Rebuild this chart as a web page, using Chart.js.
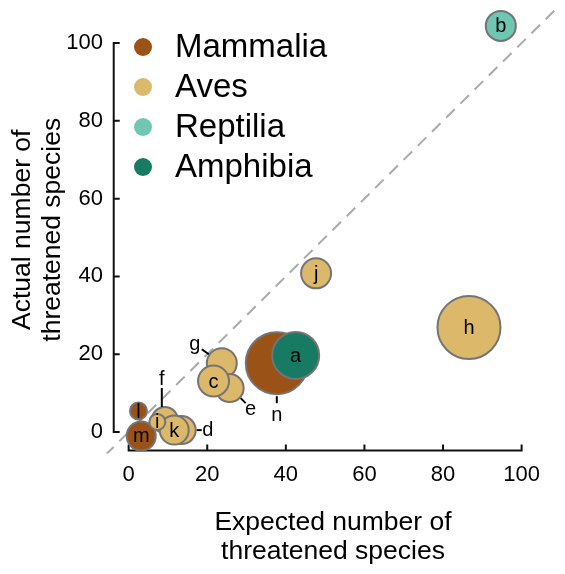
<!DOCTYPE html>
<html>
<head>
<meta charset="utf-8">
<script src="https://cdn.jsdelivr.net/npm/chart.js@4.4.1/dist/chart.umd.min.js"></script>
<style>
  body { margin: 0; background: #fff; }
  #wrap { width: 565px; height: 574px; }
</style>
</head>
<body>
<div id="wrap"><canvas id="chart"></canvas></div>
<script>
// data (x = expected, y = actual, r = bubble radius)
const mammaliaLabels = ['l', 'm', 'n'];
const mammaliaX = [2.5, 3.2, 37.7];
const mammaliaY = [5.4, -1.0, 17.7];
const mammaliaR = [8.5, 14.5, 31];

const avesLabels = ['h', 'j', 'g', 'e', 'c', 'f', 'd', 'k', 'i'];
const avesX = [86.6, 47.7, 23.7, 25.7, 21.6, 9.2, 13.5, 11.6, 7.3];
const avesY = [26.9, 40.8, 17.7, 11.3, 13.1, 3.1, 0.5, 0.5, 2.6];
const avesR = [31.5, 15, 15, 14, 15.5, 13, 14, 14.5, 8];

const reptiliaLabels = ['b'];
const reptiliaX = [94.7];
const reptiliaY = [104.4];
const reptiliaR = [15];

const amphibiaLabels = ['a'];
const amphibiaX = [42.5];
const amphibiaY = [19.7];
const amphibiaR = [23.5];

const tickValues = [0, 20, 40, 60, 80, 100];

const groups = ['Mammalia', 'Aves', 'Reptilia', 'Amphibia'];
const colors = ['#9b5217', '#dcb86b', '#6fc6b3', '#177a63'];

const FONT = '"Liberation Sans", Arial, Helvetica, sans-serif';

function points(xs, ys, rs) {
  return xs.map((x, i) => ({ x: x, y: ys[i], r: rs[i] }));
}

// labels drawn outside the bubble, with a short leader line (pixel offsets)
const outside = {
  n: { line: [[0, 33], [0, 40]], text: [0, 52] },
  g: { line: [[-13, -9], [-20, -14]], text: [-27, -19] },
  e: { line: [[11, 10], [16, 15]], text: [21, 21] },
  f: { line: [[-3, -13], [-3, -32]], text: [-3, -41] },
  d: { line: [[15, 0], [20, 0]], text: [26, 0] }
};

const labelPlugin = {
  id: 'bubbleLabels',
  afterDatasetsDraw(chart) {
    const ctx = chart.ctx;
    ctx.save();
    ctx.fillStyle = '#000';
    ctx.strokeStyle = '#000';
    ctx.lineWidth = 2;
    ctx.textAlign = 'center';
    ctx.textBaseline = 'middle';
    ctx.font = '20px ' + FONT;
    chart.data.datasets.forEach((ds, di) => {
      const meta = chart.getDatasetMeta(di);
      meta.data.forEach((el, i) => {
        const lab = ds.names[i];
        const o = outside[lab];
        if (o) {
          ctx.beginPath();
          ctx.moveTo(el.x + o.line[0][0], el.y + o.line[0][1]);
          ctx.lineTo(el.x + o.line[1][0], el.y + o.line[1][1]);
          ctx.stroke();
          ctx.fillText(lab, el.x + o.text[0], el.y + o.text[1]);
        } else {
          ctx.fillText(lab, el.x, el.y + 1);
        }
      });
    });
    ctx.restore();
  }
};

const axesPlugin = {
  id: 'rAxes',
  beforeDatasetsDraw(chart) {
    const ctx = chart.ctx;
    const xs = chart.scales.x, ys = chart.scales.y;
    const area = chart.chartArea;
    ctx.save();
    // 1:1 reference line
    ctx.beginPath();
    ctx.rect(area.left - 3, area.top, area.right - area.left + 3, area.bottom - area.top + 2);
    ctx.clip();
    ctx.strokeStyle = '#aaaaaa';
    ctx.lineWidth = 2;
    ctx.setLineDash([12, 8]);
    ctx.beginPath();
    ctx.moveTo(xs.getPixelForValue(-6), ys.getPixelForValue(-6));
    ctx.lineTo(xs.getPixelForValue(110), ys.getPixelForValue(110));
    ctx.stroke();
    ctx.restore();

    ctx.save();
    ctx.strokeStyle = '#111';
    ctx.lineWidth = 2;
    ctx.lineCap = 'square';
    // x axis
    const yb = area.bottom - 1;
    ctx.beginPath();
    ctx.moveTo(xs.getPixelForValue(0), yb);
    ctx.lineTo(xs.getPixelForValue(100), yb);
    tickValues.forEach(v => {
      const px = xs.getPixelForValue(v);
      ctx.moveTo(px, yb);
      ctx.lineTo(px, yb - 5);
    });
    // y axis
    const xl = xs.getPixelForValue(-3.8);
    ctx.moveTo(xl, ys.getPixelForValue(0));
    ctx.lineTo(xl, ys.getPixelForValue(100));
    tickValues.forEach(v => {
      const py = ys.getPixelForValue(v);
      ctx.moveTo(xl, py);
      ctx.lineTo(xl + 5, py);
    });
    ctx.stroke();
    ctx.restore();
  },
  afterDraw(chart) {
    // legend inside the plot
    const ctx = chart.ctx;
    const area = chart.chartArea;
    ctx.save();
    ctx.font = '33px ' + FONT;
    ctx.textBaseline = 'middle';
    ctx.textAlign = 'left';
    groups.forEach((g, i) => {
      const y = area.top + 39 + i * 40;
      ctx.beginPath();
      ctx.fillStyle = colors[i];
      ctx.arc(area.left + 34, y, 9, 0, Math.PI * 2);
      ctx.fill();
      ctx.fillStyle = '#000';
      ctx.fillText(g, area.left + 66, y + 1);
    });
    ctx.restore();
  }
};

const bubbleStyle = (i) => ({
  backgroundColor: colors[i],
  borderColor: '#757373',
  borderWidth: 2,
  hoverBorderWidth: 2,
  clip: false
});

function noPad(s) {
  s.paddingTop = 0;
  s.paddingBottom = 0;
  s.paddingLeft = 0;
  s.paddingRight = 0;
}

new Chart(document.getElementById('chart'), {
  type: 'bubble',
  data: {
    datasets: [
      Object.assign({ label: groups[0], names: mammaliaLabels, data: points(mammaliaX, mammaliaY, mammaliaR), order: 4 }, bubbleStyle(0)),
      Object.assign({ label: groups[1], names: avesLabels, data: points(avesX, avesY, avesR), order: 3 }, bubbleStyle(1)),
      Object.assign({ label: groups[2], names: reptiliaLabels, data: points(reptiliaX, reptiliaY, reptiliaR), order: 2 }, bubbleStyle(2)),
      Object.assign({ label: groups[3], names: amphibiaLabels, data: points(amphibiaX, amphibiaY, amphibiaR), order: 1 }, bubbleStyle(3))
    ]
  },
  options: {
    responsive: true,
    maintainAspectRatio: false,
    animation: false,
    layout: { autoPadding: false, padding: { top: 8, right: 8, left: 0, bottom: 0 } },
    plugins: { legend: { display: false }, tooltip: { enabled: false } },
    scales: {
      x: {
        type: 'linear',
        min: -5,
        max: 109,
        grid: { display: false, drawTicks: false },
        border: { display: false },
        afterBuildTicks: (s) => { s.ticks = tickValues.map(v => ({ value: v })); },
        afterFit: (s) => { s.height = 122.5; noPad(s); },
        ticks: { color: '#000', padding: 10, font: { family: FONT, size: 22 } },
        title: {
          display: true,
          text: ['Expected number of', 'threatened species'],
          color: '#000',
          padding: { top: 0, bottom: 7 },
          font: { family: FONT, size: 26.5, lineHeight: 1.12 }
        }
      },
      y: {
        type: 'linear',
        min: -5,
        max: 109,
        grid: { display: false, drawTicks: false },
        border: { display: false },
        afterBuildTicks: (s) => { s.ticks = tickValues.map(v => ({ value: v })); },
        afterFit: (s) => { s.width = 109; noPad(s); },
        ticks: { color: '#000', padding: 6, font: { family: FONT, size: 22 } },
        title: {
          display: true,
          text: ['Actual number of', 'threatened species'],
          color: '#000',
          padding: { top: 8, bottom: 0 },
          font: { family: FONT, size: 26.5, lineHeight: 1.12 }
        }
      }
    }
  },
  plugins: [axesPlugin, labelPlugin]
});
</script>
</body>
</html>
